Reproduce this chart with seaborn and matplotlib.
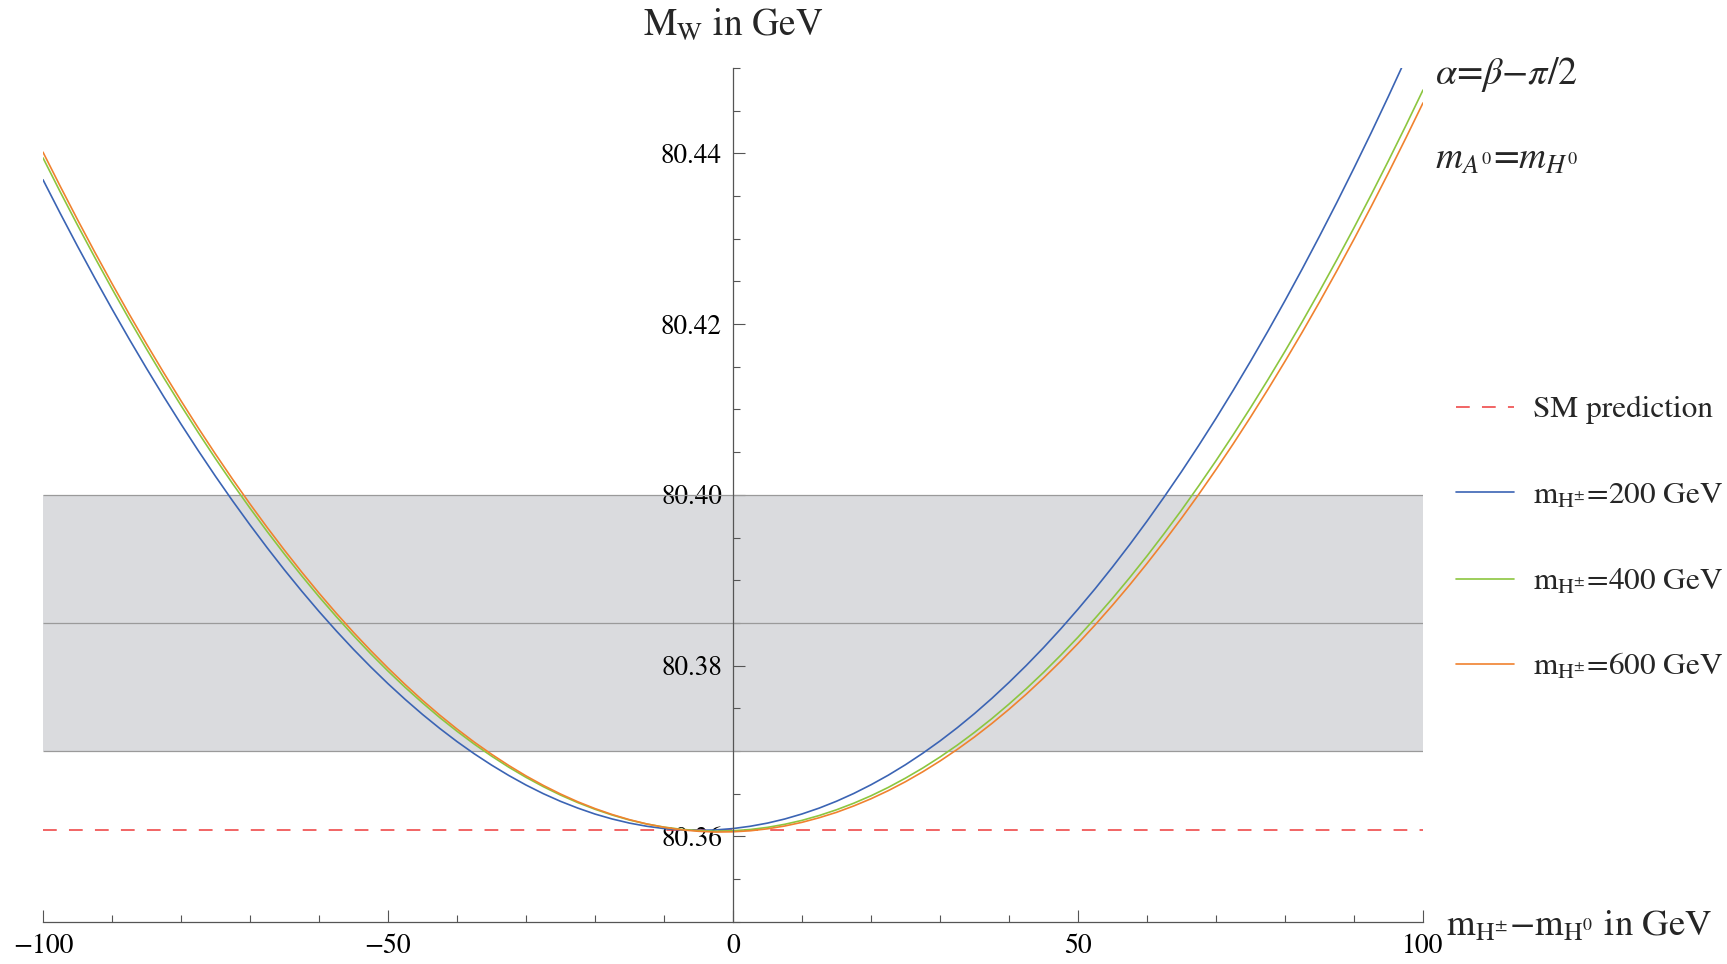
import matplotlib
matplotlib.use("Agg")
import matplotlib.pyplot as plt
import pandas as pd
import seaborn as sns
from matplotlib.ticker import FixedLocator, MultipleLocator, FormatStrFormatter
from matplotlib.lines import Line2D

# ---------------- data ----------------
x_vals = [i * 2.5 for i in range(-40, 41)]  # m_H± - m_H0 in GeV, -100 ... 100

mw_200 = [80.43691, 80.43297, 80.42913, 80.42540, 80.42177, 80.41824, 80.41482, 80.41150,
          80.40829, 80.40518, 80.40217, 80.39927, 80.39648, 80.39379, 80.39120, 80.38872,
          80.38634, 80.38407, 80.38190, 80.37984, 80.37788, 80.37603, 80.37428, 80.37264,
          80.37110, 80.36967, 80.36835, 80.36713, 80.36601, 80.36500, 80.36410, 80.36331,
          80.36261, 80.36203, 80.36155, 80.36118, 80.36091, 80.36075, 80.36070, 80.36075,
          80.36091, 80.36118, 80.36155, 80.36203, 80.36262, 80.36331, 80.36411, 80.36502,
          80.36604, 80.36716, 80.36839, 80.36973, 80.37117, 80.37272, 80.37438, 80.37615,
          80.37803, 80.38001, 80.38210, 80.38430, 80.38661, 80.38902, 80.39155, 80.39418,
          80.39692, 80.39977, 80.40272, 80.40579, 80.40896, 80.41225, 80.41564, 80.41914,
          80.42275, 80.42647, 80.43030, 80.43423, 80.43828, 80.44243, 80.44670, 80.45108,
          80.45556]
mw_400 = [80.43947, 80.43548, 80.43160, 80.42782, 80.42414, 80.42056, 80.41709, 80.41372,
          80.41046, 80.40730, 80.40424, 80.40129, 80.39844, 80.39569, 80.39305, 80.39051,
          80.38807, 80.38574, 80.38351, 80.38138, 80.37936, 80.37744, 80.37563, 80.37391,
          80.37231, 80.37080, 80.36940, 80.36810, 80.36691, 80.36582, 80.36483, 80.36395,
          80.36317, 80.36249, 80.36191, 80.36144, 80.36108, 80.36082, 80.36066, 80.36060,
          80.36065, 80.36080, 80.36105, 80.36141, 80.36187, 80.36244, 80.36311, 80.36388,
          80.36475, 80.36573, 80.36682, 80.36800, 80.36929, 80.37068, 80.37218, 80.37378,
          80.37549, 80.37729, 80.37920, 80.38122, 80.38333, 80.38556, 80.38788, 80.39031,
          80.39284, 80.39548, 80.39821, 80.40106, 80.40400, 80.40705, 80.41020, 80.41346,
          80.41682, 80.42028, 80.42385, 80.42752, 80.43129, 80.43517, 80.43915, 80.44323,
          80.44742]
mw_600 = [80.44014, 80.43614, 80.43224, 80.42844, 80.42475, 80.42116, 80.41768, 80.41430,
          80.41102, 80.40784, 80.40477, 80.40180, 80.39893, 80.39617, 80.39351, 80.39095,
          80.38849, 80.38614, 80.38389, 80.38175, 80.37971, 80.37777, 80.37593, 80.37420,
          80.37257, 80.37104, 80.36962, 80.36830, 80.36708, 80.36597, 80.36496, 80.36405,
          80.36325, 80.36255, 80.36195, 80.36145, 80.36106, 80.36077, 80.36059, 80.36050,
          80.36053, 80.36065, 80.36088, 80.36121, 80.36164, 80.36218, 80.36281, 80.36356,
          80.36440, 80.36535, 80.36640, 80.36756, 80.36882, 80.37018, 80.37164, 80.37321,
          80.37488, 80.37665, 80.37853, 80.38051, 80.38259, 80.38478, 80.38707, 80.38946,
          80.39196, 80.39456, 80.39726, 80.40006, 80.40297, 80.40598, 80.40910, 80.41232,
          80.41564, 80.41906, 80.42259, 80.42622, 80.42995, 80.43379, 80.43773, 80.44177,
          80.44591]

series_labels = [r"$\mathrm{m_{H^{\pm}}}$=200 GeV",
                 r"$\mathrm{m_{H^{\pm}}}$=400 GeV",
                 r"$\mathrm{m_{H^{\pm}}}$=600 GeV"]
sm_label = "SM prediction"
sm_prediction = 80.3608
band_low, band_mid, band_high = 80.37, 80.385, 80.40
x_ticks = [-100, -50, 0, 50, 100]
y_ticks = [80.36, 80.38, 80.40, 80.42, 80.44]

# ---------------- styling ----------------
sns.set_theme(style="white")
plt.rcParams["font.family"] = ["STIXGeneral", "DejaVu Sans"]
plt.rcParams["mathtext.fontset"] = "stix"
plt.rcParams["axes.unicode_minus"] = True

colors = ["#3b64b4", "#8cc63f", "#f0822f"]
sm_color = "#ee3b3b"
axis_color = "#555555"

W, H = 1727, 964
fig = plt.figure(figsize=(W / 100, H / 100), dpi=100)
ax_left, ax_right, ax_top, ax_bottom = 43, 1423, 68, 921.7
ax = fig.add_axes([ax_left / W, 1 - ax_bottom / H, (ax_right - ax_left) / W,
                   (ax_bottom - ax_top) / H])

n = len(x_vals)
df = pd.DataFrame({
    "x": x_vals * 3,
    "mw": mw_200 + mw_400 + mw_600,
    "series": [series_labels[0]] * n + [series_labels[1]] * n + [series_labels[2]] * n,
})

# experimental band
ax.fill_between([x_ticks[0], x_ticks[-1]], band_low, band_high,
                color="#dadbde", lw=0, zorder=0)
ax.hlines([band_low, band_mid, band_high], x_ticks[0], x_ticks[-1],
          colors="#9a9a9a", lw=0.9, zorder=1)

# SM line
sm_line, = ax.plot([x_ticks[0], x_ticks[-1]], [sm_prediction, sm_prediction],
                   color=sm_color, lw=1.1, dashes=(9, 8), zorder=2)

sns.lineplot(data=df, x="x", y="mw", hue="series", palette=colors,
             hue_order=series_labels, estimator=None, sort=False,
             linewidth=1.2, legend=False, ax=ax, zorder=3)

ax.set_xlim(-100, 100)
ax.set_ylim(80.35, 80.45)
ax.set_xlabel("")
ax.set_ylabel("")

for s in ["top", "right"]:
    ax.spines[s].set_visible(False)
ax.spines["left"].set_position(("data", 0))
for s in ["left", "bottom"]:
    ax.spines[s].set_color(axis_color)
    ax.spines[s].set_linewidth(0.9)
    ax.spines[s].set_zorder(4)

ax.xaxis.set_major_locator(FixedLocator(x_ticks))
ax.yaxis.set_major_locator(FixedLocator(y_ticks))
ax.xaxis.set_minor_locator(MultipleLocator(10))
ax.yaxis.set_minor_locator(MultipleLocator(0.005))
ax.yaxis.set_major_formatter(FormatStrFormatter("%.2f"))
ax.tick_params(axis="both", which="both", bottom=True, left=True, top=False, right=False)
ax.tick_params(axis="both", which="major", direction="in", length=8.5, width=0.8,
               color=axis_color, labelsize=19.5, labelcolor="black")
ax.tick_params(axis="both", which="minor", direction="in", length=5, width=0.8,
               color=axis_color)
ax.tick_params(axis="x", which="major", pad=9, labelsize=20)
ax.tick_params(axis="y", which="major", pad=8)
ax.grid(False)
ax.set_facecolor("white")

# axis labels
fig.text(733 / W, 1 - 25 / H, r"$\mathrm{M_W}$ in GeV", ha="center", va="center",
         fontsize=27)
fig.text(1446 / W, 1 - 927 / H, r"$\mathrm{m_{H^{\pm}}}$$-$$\mathrm{m_{H^0}}$ in GeV",
         ha="left", va="center", fontsize=26.5)

# annotations
fig.text(1435 / W, 1 - 74 / H, r"$\alpha$=$\beta$$-$$\pi$/2", ha="left", va="center",
         fontsize=27.5)
fig.text(1435 / W, 1 - 160 / H, r"$m_{A^0}$=$m_{H^0}$", ha="left", va="center",
         fontsize=27)

# legend: one row per entry, at the reference row positions
rows_y = [410, 496, 582, 667]
handles = [sm_line] + [Line2D([], [], color=c, lw=1.2) for c in colors]
labels = [sm_label] + series_labels
for h, l, yy in zip(handles, labels, rows_y):
    fig.legend([h], [l], loc="center left", bbox_to_anchor=(1456 / W, 1 - yy / H),
               bbox_transform=fig.transFigure, frameon=False, fontsize=22.5,
               handlelength=1.86, handletextpad=0.6, borderpad=0, borderaxespad=0)

fig.savefig("out.png", dpi=100)
